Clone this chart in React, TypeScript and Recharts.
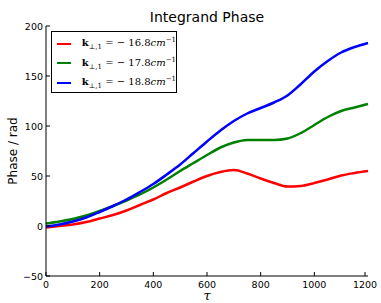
import React from "react";
import { LineChart, Line, XAxis, YAxis } from "recharts";

const tau = [0, 50, 100, 150, 200, 250, 300, 350, 400, 450, 500, 550, 600, 650, 700, 750, 800, 850, 900, 950, 1000, 1050, 1100, 1150, 1200];
const phase168 = [-1.5, 0, 1.5, 4, 7.5, 11, 15.5, 21, 26.5, 33, 38.5, 44.5, 50, 54, 56, 52.5, 47.5, 43, 39.5, 40, 43, 46.5, 50.5, 53, 55];
const phase178 = [2.5, 4.5, 7, 10.5, 15, 20, 25.5, 31.5, 38.5, 46.5, 55, 63, 71, 78.5, 83.5, 86, 86, 86, 87.5, 93, 101, 109, 115, 118.5, 122];
const phase188 = [-0.5, 1.5, 4.5, 8.5, 14, 20, 26.5, 34, 42, 51.5, 61.5, 73, 84.5, 95.5, 105, 112.5, 118, 123.5, 130.5, 142, 154.5, 165, 173.5, 179, 183];
const xTicks = [0, 200, 400, 600, 800, 1000, 1200];
const yTicks = [-50, 0, 50, 100, 150, 200];
const seriesLabels = ["16.8", "17.8", "18.8"];
const seriesColors = ["#ff0000", "#008000", "#0000ff"];

const data = tau.map((t, i) => ({ t, a: phase168[i], b: phase178[i], c: phase188[i] }));

const FONT = "'DejaVu Sans', sans-serif";

const BottomTick = (p: any) => (
  <g>
    <line x1={p.x} y1={p.y} x2={p.x} y2={p.y - 4} stroke="#000" />
    <text x={p.x} y={p.y + 11.5} textAnchor="middle" fontSize={9.5} fontFamily={FONT} fill="#000">
      {p.payload.value}
    </text>
  </g>
);
const TopTick = (p: any) => <line x1={p.x} y1={p.y} x2={p.x} y2={p.y + 4} stroke="#000" />;
const LeftTick = (p: any) => (
  <g>
    <line x1={p.x} y1={p.y} x2={p.x + 4} y2={p.y} stroke="#000" />
    <text x={p.x - 3} y={p.y + 3.5} textAnchor="end" fontSize={9.5} fontFamily={FONT} fill="#000">
      {p.payload.value < 0 ? "\u2212" + Math.abs(p.payload.value) : p.payload.value}
    </text>
  </g>
);
const RightTick = (p: any) => <line x1={p.x} y1={p.y} x2={p.x - 4} y2={p.y} stroke="#000" />;

const LegendBox = () => (
  <div
    style={{
      position: "absolute",
      left: 51,
      top: 31,
      border: "1px solid #000",
      background: "#fff",
      width: 126,
      height: 62,
      boxSizing: "border-box",
      padding: "2px 0 0 4px",
    }}
  >
    {seriesLabels.map((l, i) => (
      <div key={l} style={{ display: "flex", alignItems: "center", height: 19.5 }}>
        <div style={{ width: 17, height: 0, borderTop: `2.5px solid ${seriesColors[i]}`, marginLeft: 1, marginRight: 11 }} />
        <span style={{ fontFamily: "'DejaVu Serif', serif", fontSize: 10, whiteSpace: "nowrap", color: "#000" }}>
          <b>k</b>
          <sub style={{ fontSize: 7 }}>{"\u22a5,1"}</sub>
          {" = \u2212 " + l}
          <i>cm</i>
          <sup style={{ fontSize: 7 }}>{"\u22121"}</sup>
        </span>
      </div>
    ))}
  </div>
);

export default function App() {
  return (
    <div style={{ position: "absolute", left: 0, top: 0, width: 381, height: 303, background: "#fff", overflow: "hidden" }}>
      <LineChart width={381} height={303} data={data} margin={{ top: 26, right: 13, left: 0, bottom: 0 }}>
        <XAxis
          dataKey="t"
          type="number"
          domain={[0, 1200]}
          ticks={xTicks}
          height={27}
          tickSize={0}
          tickMargin={0}
          tickLine={false}
          tick={<BottomTick />}
          axisLine={{ stroke: "#000" }}
        />
        <XAxis
          xAxisId="top"
          orientation="top"
          dataKey="t"
          type="number"
          domain={[0, 1200]}
          ticks={xTicks}
          height={0}
          tickSize={0}
          tickMargin={0}
          tickLine={false}
          tick={<TopTick />}
          axisLine={{ stroke: "#000" }}
        />
        <YAxis
          type="number"
          domain={[-50, 200]}
          ticks={yTicks}
          width={46}
          tickSize={0}
          tickMargin={0}
          tickLine={false}
          tick={<LeftTick />}
          axisLine={{ stroke: "#000" }}
          interval={0}
        />
        <YAxis
          yAxisId="right"
          orientation="right"
          type="number"
          domain={[-50, 200]}
          ticks={yTicks}
          width={0}
          tickSize={0}
          tickMargin={0}
          tickLine={false}
          tick={<RightTick />}
          axisLine={{ stroke: "#000" }}
          interval={0}
        />
        <Line dataKey="a" stroke={seriesColors[0]} strokeWidth={2.5} dot={false} type="monotone" isAnimationActive={false} />
        <Line dataKey="b" stroke={seriesColors[1]} strokeWidth={2.5} dot={false} type="monotone" isAnimationActive={false} />
        <Line dataKey="c" stroke={seriesColors[2]} strokeWidth={2.5} dot={false} type="monotone" isAnimationActive={false} />
        <text x={207} y={22} textAnchor="middle" fontSize={14} fontFamily={FONT} fill="#000">
          Integrand Phase
        </text>
        <text x={17} y={151} textAnchor="middle" fontSize={12} fontFamily={FONT} fill="#000" transform="rotate(-90 17 151)">
          Phase / rad
        </text>
        <text x={207} y={300} textAnchor="middle" fontSize={13} fontFamily="'DejaVu Serif', serif" fontStyle="italic" fill="#000">
          τ
        </text>
      </LineChart>
      <LegendBox />
    </div>
  );
}
